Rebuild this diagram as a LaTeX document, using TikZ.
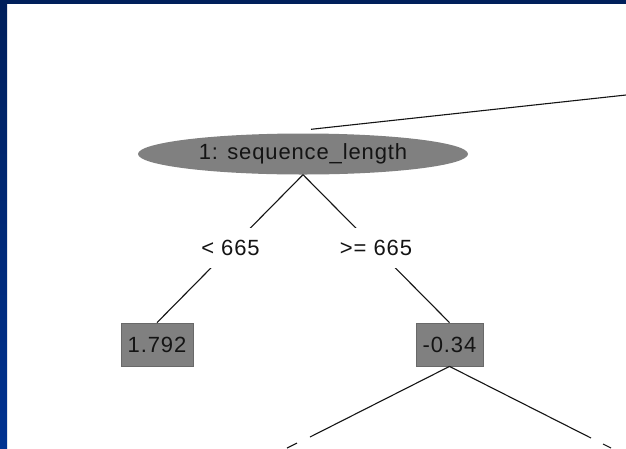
\documentclass[tikz,border=0pt]{standalone}
\usepackage{fontspec}
\setmainfont[LetterSpace=4]{Liberation Sans}
\usetikzlibrary{shapes.geometric}
\definecolor{navyA}{RGB}{0,31,91}
\definecolor{navyB}{RGB}{0,50,145}
\definecolor{nodegray}{RGB}{128,128,128}
\definecolor{boxedge}{RGB}{105,105,105}
\definecolor{inkc}{RGB}{20,20,20}
\begin{document}
\begin{tikzpicture}[x=1pt,y=-1pt,
  txt/.style={font=\fontsize{22}{26}\selectfont, text=inkc},
  splitnode/.style={ellipse, fill=nodegray, minimum width=330, minimum height=41, inner sep=0pt, txt},
  leafbox/.style={rectangle, fill=nodegray, draw=boxedge, line width=0.8pt, minimum height=43, inner sep=0pt, txt},
  edgelabel/.style={fill=white, minimum height=40, inner xsep=3pt, inner ysep=0pt, txt},
  edge/.style={draw=inkc, line width=1.1pt}]
\useasboundingbox (0,0) rectangle (626,448);
\fill[white] (0,0) rectangle (626,448);
\shade[top color=navyA, bottom color=navyB] (0,0) rectangle (7,448);
\fill[navyA] (0,0) rectangle (626,4);
% nodes
\node[splitnode] (ell) at (303,154) {\raisebox{-1.5pt}{1: sequence\_length}};
\node[leafbox, minimum width=72] (b1) at (157,344.5) {1.792};
\node[leafbox, minimum width=67] (b2) at (449.5,344.5) {-0.34};
\coordinate (topend) at (626,95);
\coordinate (lgapA) at (310,437);
\coordinate (lgapB) at (297,443);
\coordinate (lend) at (287,448);
\coordinate (rgapA) at (591,438);
\coordinate (rgapB) at (603,444);
\coordinate (rend) at (611,448);
% connectors
\draw[edge] ([xshift=8pt,yshift=4pt]ell.north) -- (topend);
\draw[edge] (ell.south) -- (b1.north);
\draw[edge] (ell.south) -- (b2.north);
\draw[edge] (b2.south) -- (lgapA);
\draw[edge] (lgapB) -- (lend);
\draw[edge] (b2.south) -- (rgapA);
\draw[edge] (rgapB) -- (rend);
% edge labels
\node[edgelabel] (l1) at (230.5,248) {< 665};
\node[edgelabel] (l2) at (376,248) {>= 665};
\end{tikzpicture}
\end{document}
